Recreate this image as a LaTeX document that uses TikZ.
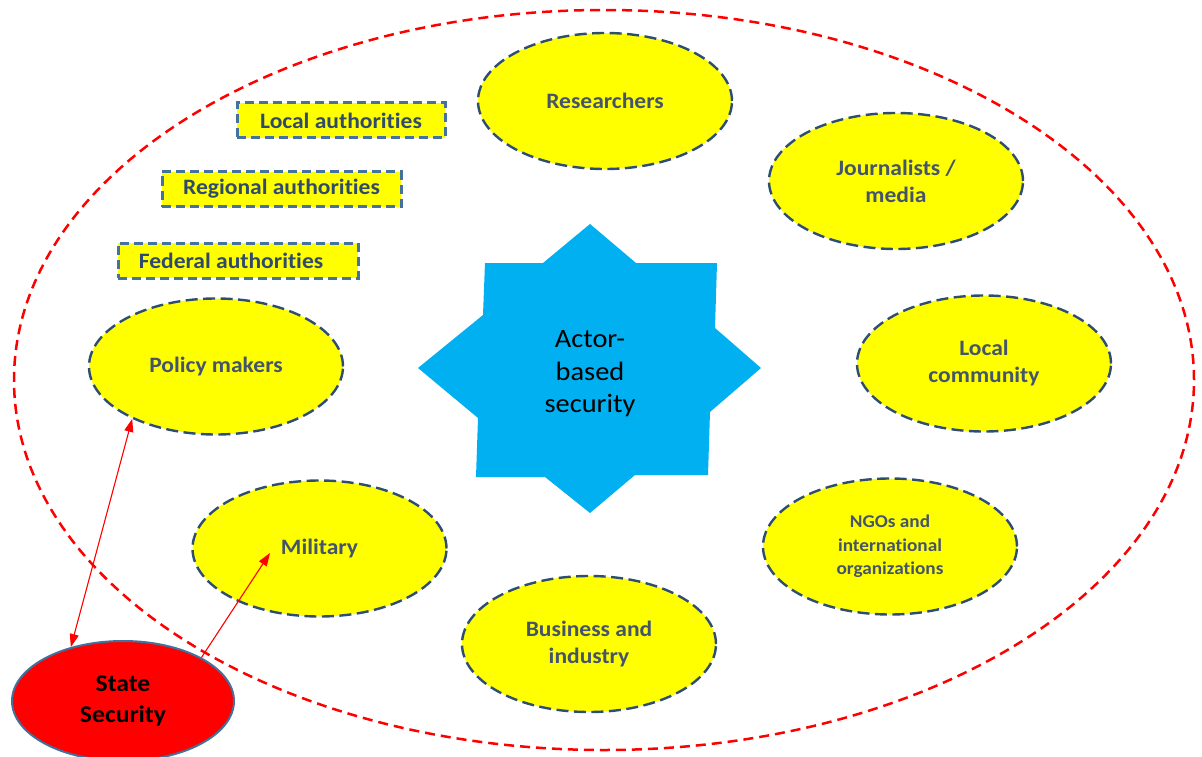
\documentclass[tikz,border=0pt]{standalone}
\usepackage{fontspec}
\setmainfont{Carlito}[FakeStretch=1.07, Ligatures={NoCommon}]
\usetikzlibrary{shapes.geometric,arrows.meta}
\definecolor{ybox}{HTML}{FFFF00}
\definecolor{edgeblue}{HTML}{2E4D73}
\definecolor{rectblue}{HTML}{4472A0}
\definecolor{txtgray}{HTML}{44546A}
\definecolor{recttxt}{HTML}{2F4A6A}
\definecolor{starblue}{HTML}{00B0F0}
\definecolor{stateedge}{HTML}{41719C}
\begin{document}
\begin{tikzpicture}[x=1pt,y=-1pt,
  actor/.style={ellipse, draw=edgeblue, fill=ybox, line width=2.4pt,
    dash pattern=on 12pt off 5.5pt, inner sep=0pt,
    minimum width=254pt, minimum height=136pt, text=txtgray,
    font=\fontsize{22}{27}\selectfont\bfseries, align=center},
  authbox/.style={rectangle, draw=rectblue, fill=ybox, line width=3pt,
    dash pattern=on 9pt off 5pt, inner sep=0pt, minimum height=35pt,
    text=recttxt, font=\fontsize{22}{26}\selectfont\bfseries},
  link/.style={draw=red, line width=1.1pt},
  tip/.style={-{Triangle[length=13pt,width=9pt]}}
]
\useasboundingbox (0,0) rectangle (1202,757);

% outer dashed boundary
\node[ellipse, draw=red, line width=2.5pt, dash pattern=on 10pt off 6pt,
  minimum width=1180pt, minimum height=740pt, inner sep=0pt] (outer) at (604,380) {};

% central star
\fill[starblue] (590,224) -- (543,263) -- (485,263) -- (483,315) -- (418,368)
  -- (478,418) -- (476,477) -- (545,477) -- (590,513) -- (635,475) -- (708,475)
  -- (710,412) -- (761,368) -- (715,328) -- (717,263) -- (636,263) -- cycle;
\node[align=center, font=\fontsize{26.5}{32.5}\selectfont, text=black] (core) at (590,374)
  {Actor-\\based\\security};

% authority boxes
\node[authbox, minimum width=208pt] (local) at (341,120.5) {Local authorities};
\node[authbox, minimum width=239pt] (regional) at (281.5,189) {Regional authorities};
\node[authbox, minimum width=240pt] (federal) at (238,260.5) {Federal authorities\hspace*{14pt}};

% actors
\node[actor] (research) at (605,101) {Researchers};
\node[actor] (journal) at (896,181) {Journalists /\\media};
\node[actor] (community) at (984,363.5) {Local\\community};
\node[actor, font=\fontsize{18}{23.5}\selectfont\bfseries] (ngo) at (890,546.5)
  {NGOs and\\international\\organizations};
\node[actor] (business) at (589,644) {Business and\\industry};
\node[actor] (military) at (319.5,548.5) {Military};
\node[actor] (policy) at (216,366.5) {Policy makers};

% state security
\node[ellipse, draw=stateedge, fill=red, line width=2pt, inner sep=0pt,
  minimum width=222pt, minimum height=120pt, align=center, text=black,
  font=\fontsize{24}{31}\selectfont\bfseries] (state) at (123,701) {State\\Security};

% connectors
\coordinate (milpt) at (270,553);
\draw[link, {Triangle[length=13pt,width=9pt]}-{Triangle[length=13pt,width=9pt]}]
  (policy.212) -- (state.134);
\draw[link, tip] (state.29) -- (milpt);
\end{tikzpicture}
\end{document}
